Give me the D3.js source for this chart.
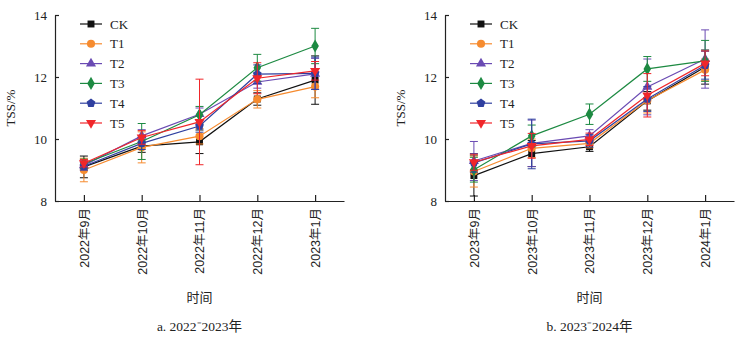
<!DOCTYPE html>
<html>
<head>
<meta charset="utf-8">
<script src="https://cdn.jsdelivr.net/npm/d3@7"></script>
<style>
  body { margin: 0; background: #fff; }
  svg { display: block; }
  .serif { font-family: "Liberation Serif", "Noto Sans CJK SC", serif; }
  .sans { font-family: "Liberation Sans", "Noto Sans CJK SC", sans-serif; }
</style>
</head>
<body>
<svg id="chart"></svg>
<script>
// series names and tick labels
const seriesNames = ["CK", "T1", "T2", "T3", "T4", "T5"];
const monthsA = ["2022年9月", "2022年10月", "2022年11月", "2022年12月", "2023年1月"];
const monthsB = ["2023年9月", "2023年10月", "2023年11月", "2023年12月", "2024年1月"];
const yTicks = [8, 10, 12, 14];

// 2022-2023 means and error
const meanA = {
  CK: [9.10, 9.77, 9.91, 11.29, 11.90],
  T1: [9.00, 9.73, 10.09, 11.28, 11.69],
  T2: [9.15, 10.10, 10.80, 11.84, 12.10],
  T3: [9.20, 9.92, 10.78, 12.30, 13.00],
  T4: [9.12, 9.86, 10.42, 12.09, 12.12],
  T5: [9.22, 10.05, 10.55, 11.96, 12.20]
};
const errA = {
  CK: [0.35, 0.20, 0.38, 0.20, 0.78],
  T1: [0.38, 0.50, 0.25, 0.28, 0.36],
  T2: [0.15, 0.20, 0.20, 0.20, 0.50],
  T3: [0.15, 0.58, 0.27, 0.43, 0.57],
  T4: [0.12, 0.20, 0.20, 0.30, 0.52],
  T5: [0.12, 0.22, 1.38, 0.50, 0.30]
};

// 2023-2024 means and error
const meanB = {
  CK: [8.82, 9.53, 9.75, 11.23, 12.32],
  T1: [8.95, 9.70, 9.86, 11.24, 12.23],
  T2: [9.29, 9.86, 10.10, 11.68, 12.58],
  T3: [9.01, 10.10, 10.80, 12.26, 12.52],
  T4: [9.23, 9.84, 9.94, 11.29, 12.38],
  T5: [9.25, 9.78, 9.99, 11.41, 12.44]
};
const errB = {
  CK: [0.66, 0.42, 0.15, 0.30, 0.55],
  T1: [0.50, 0.30, 0.15, 0.40, 0.35],
  T2: [0.63, 0.75, 0.20, 0.90, 0.94],
  T3: [0.40, 0.35, 0.33, 0.40, 0.66],
  T4: [0.30, 0.80, 0.20, 0.40, 0.45],
  T5: [0.26, 0.40, 0.20, 0.70, 0.40]
};

const colors = {
  CK: "#111111", T1: "#f68b2f", T2: "#6a4bb3",
  T3: "#1d8a42", T4: "#3040a0", T5: "#f0262a"
};
const shapes = {
  CK: d3.symbolSquare, T1: d3.symbolCircle, T2: d3.symbolTriangle,
  T3: d3.symbolDiamond, T4: "pentagon", T5: "triangleDown"
};
const sizes = { CK: 48, T1: 52, T2: 44, T3: 50, T4: 52, T5: 44 };

const width = 747, height = 339;
const svg = d3.select("#chart").attr("width", width).attr("height", height);

function markerPath(name) {
  const s = shapes[name];
  if (s === "pentagon") {
    const r = 4.6;
    const pts = d3.range(5).map(i => {
      const a = -Math.PI / 2 + i * 2 * Math.PI / 5;
      return [r * Math.cos(a), r * Math.sin(a)];
    });
    return "M" + pts.map(p => p.join(",")).join("L") + "Z";
  }
  if (s === "triangleDown") {
    return d3.symbol(d3.symbolTriangle, sizes[name])().replace(/(-?\d*\.?\d+),(-?\d*\.?\d+)/g,
      (m, x, y) => x + "," + (-y));
  }
  return d3.symbol(s, sizes[name])();
}

function drawPanel(left, months, mean, err, caption) {
  const x0 = left, x1 = left + 289;
  const xScale = d3.scalePoint().domain(months).range([x0, x1]).padding(0.5);
  const yScale = d3.scaleLinear().domain([8, 14]).range([201, 15]);

  const g = svg.append("g");

  // axes with inward ticks
  const yAxis = d3.axisLeft(yScale).tickValues(yTicks).tickFormat(d3.format("d"))
    .tickSizeInner(-4).tickSizeOuter(0).tickPadding(8);
  g.append("g")
    .attr("transform", `translate(${x0},0)`)
    .call(yAxis)
    .call(a => a.selectAll("text").attr("class", "serif").style("font-size", "13px").attr("fill", "#222"));

  const xAxis = d3.axisBottom(xScale).tickSizeInner(-6).tickSizeOuter(0);
  g.append("g")
    .attr("transform", `translate(0,201)`)
    .call(xAxis)
    .call(a => a.selectAll("text")
      .attr("class", "sans")
      .style("font-size", "12.5px")
      .attr("fill", "#222")
      .attr("transform", "rotate(-90)")
      .attr("x", -7).attr("y", 0).attr("dy", "0.35em")
      .style("text-anchor", "end"));
  g.selectAll(".domain, .tick line").attr("stroke", "#222").attr("stroke-width", 1.2);

  // axis titles
  g.append("text")
    .attr("class", "serif")
    .attr("transform", `translate(${x0 - 40},108) rotate(-90)`)
    .style("text-anchor", "middle")
    .style("font-size", "13px")
    .attr("fill", "#222")
    .text("TSS/%");
  const mid = (xScale(months[0]) + xScale(months[4])) / 2;
  g.append("text")
    .attr("class", "sans")
    .attr("x", mid).attr("y", 302)
    .style("text-anchor", "middle")
    .style("font-size", "13px")
    .attr("fill", "#222")
    .text("时间");
  g.append("text")
    .attr("class", "serif")
    .attr("x", mid).attr("y", 331)
    .style("text-anchor", "middle")
    .style("font-size", "13.5px")
    .attr("fill", "#222")
    .text(caption);

  const line = d3.line().x((d, i) => xScale(months[i])).y(d => yScale(d));

  seriesNames.forEach(name => {
    const c = colors[name];
    const s = g.append("g");
    // error bars
    mean[name].forEach((v, i) => {
      const cx = xScale(months[i]);
      const top = yScale(v + err[name][i]), bot = yScale(v - err[name][i]);
      s.append("line").attr("x1", cx).attr("x2", cx).attr("y1", top).attr("y2", bot)
        .attr("stroke", c).attr("stroke-width", 1);
      [top, bot].forEach(yy => s.append("line")
        .attr("x1", cx - 4).attr("x2", cx + 4).attr("y1", yy).attr("y2", yy)
        .attr("stroke", c).attr("stroke-width", 1));
    });
    s.append("path").datum(mean[name]).attr("d", line)
      .attr("fill", "none").attr("stroke", c).attr("stroke-width", 1.2);
    s.selectAll("path.pt").data(mean[name]).join("path")
      .attr("class", "pt")
      .attr("d", markerPath(name))
      .attr("transform", (d, i) => `translate(${xScale(months[i])},${yScale(d)})`)
      .attr("fill", c);
  });

  // legend
  const lg = g.append("g").attr("transform", `translate(${x0 + 25},24)`);
  seriesNames.forEach((name, i) => {
    const row = lg.append("g").attr("transform", `translate(0,${i * 19.8})`);
    row.append("line").attr("x1", 0).attr("x2", 22).attr("y1", 0).attr("y2", 0)
      .attr("stroke", colors[name]).attr("stroke-width", 1.2);
    row.append("path").attr("d", markerPath(name))
      .attr("transform", "translate(11,0)").attr("fill", colors[name]);
    row.append("text").attr("class", "serif")
      .attr("x", 30).attr("dy", "0.35em")
      .style("font-size", "13px").attr("fill", "#222")
      .text(name);
  });
}

drawPanel(55, monthsA, meanA, errA, "a. 2022\u207b2023年");
drawPanel(445, monthsB, meanB, errB, "b. 2023\u207b2024年");
</script>
</body>
</html>
